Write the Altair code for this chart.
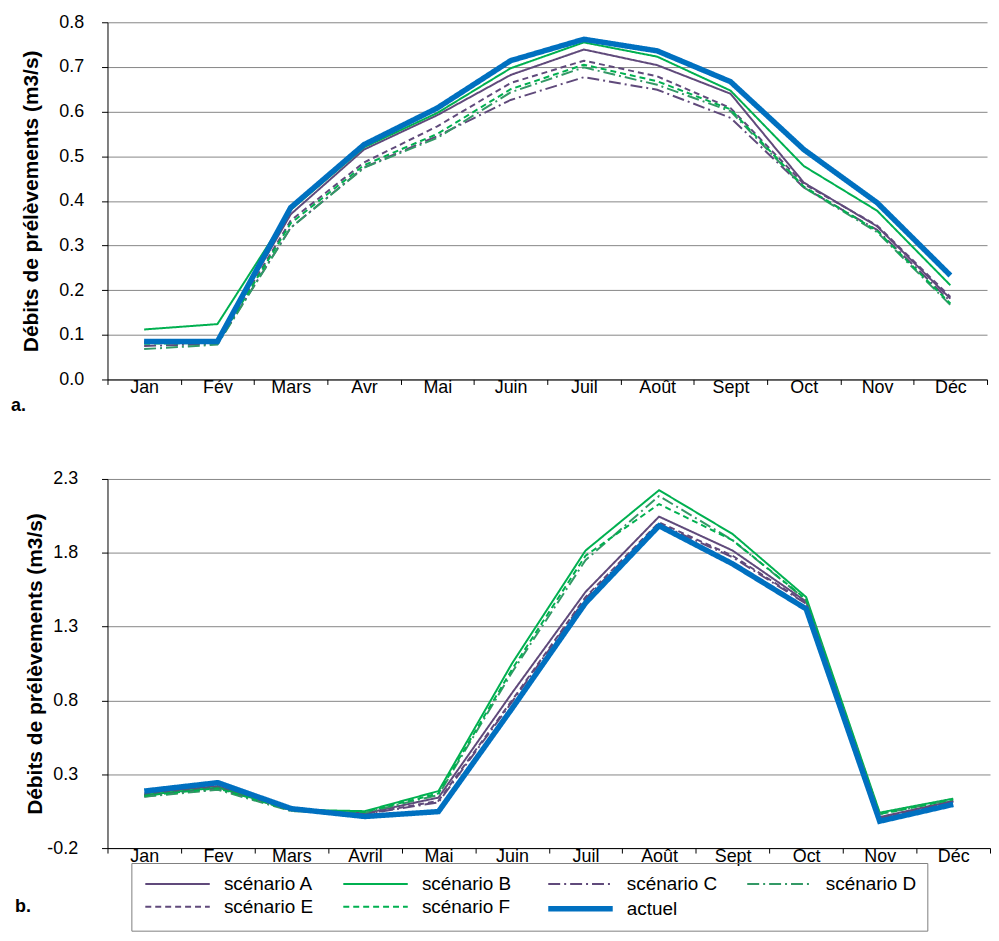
import altair as alt
import pandas as pd

months_a = ["Jan", "Fév", "Mars", "Avr", "Mai", "Juin", "Juil", "Août", "Sept", "Oct", "Nov", "Déc"]
months_b = ["Jan", "Fev", "Mars", "Avril", "Mai", "Juin", "Juil", "Août", "Sept", "Oct", "Nov", "Déc"]
series = ["scénario A", "scénario B", "scénario C", "scénario D", "scénario E", "scénario F", "actuel"]

# panel a values
a_A = [0.085, 0.087, 0.370, 0.515, 0.592, 0.682, 0.739, 0.704, 0.640, 0.441, 0.343, 0.181]
a_B = [0.112, 0.124, 0.380, 0.520, 0.597, 0.697, 0.755, 0.723, 0.647, 0.478, 0.378, 0.211]
a_C = [0.075, 0.080, 0.340, 0.475, 0.545, 0.626, 0.677, 0.649, 0.586, 0.430, 0.335, 0.175]
a_D = [0.068, 0.078, 0.340, 0.474, 0.541, 0.643, 0.699, 0.660, 0.601, 0.430, 0.330, 0.167]
a_E = [0.083, 0.085, 0.356, 0.486, 0.567, 0.664, 0.714, 0.679, 0.608, 0.438, 0.345, 0.185]
a_F = [0.080, 0.082, 0.350, 0.480, 0.550, 0.650, 0.705, 0.668, 0.605, 0.432, 0.333, 0.170]
a_act = [0.085, 0.085, 0.385, 0.526, 0.608, 0.714, 0.762, 0.736, 0.667, 0.515, 0.396, 0.233]

# panel b values
b_A = [0.170, 0.220, 0.060, 0.035, 0.142, 0.850, 1.535, 2.045, 1.815, 1.470, 0.010, 0.120]
b_B = [0.160, 0.210, 0.060, 0.050, 0.186, 1.050, 1.815, 2.224, 1.927, 1.500, 0.040, 0.135]
b_C = [0.150, 0.200, 0.055, 0.030, 0.110, 0.790, 1.490, 1.995, 1.770, 1.455, 0.000, 0.115]
b_D = [0.148, 0.195, 0.050, 0.040, 0.160, 0.990, 1.750, 2.185, 1.885, 1.480, 0.030, 0.130]
b_E = [0.160, 0.210, 0.055, 0.030, 0.120, 0.800, 1.500, 2.006, 1.780, 1.460, 0.000, 0.115]
b_F = [0.155, 0.205, 0.055, 0.045, 0.170, 1.010, 1.780, 2.130, 1.885, 1.485, 0.030, 0.130]
b_act = [0.186, 0.243, 0.067, 0.014, 0.047, 0.745, 1.460, 1.983, 1.725, 1.420, -0.018, 0.096]

ticks_a = [0.0, 0.1, 0.2, 0.3, 0.4, 0.5, 0.6, 0.7, 0.8]
ticks_b = [-0.2, 0.3, 0.8, 1.3, 1.8, 2.3]

colors = ["#604a7b", "#00b050", "#604a7b", "#339966", "#604a7b", "#00b050", "#0070c0"]
dashes = [[1, 0], [1, 0], [12, 4, 2, 4], [12, 4, 2, 4], [6, 4], [6, 4], [1, 0]]
widths = [2, 2, 2, 2, 2, 2, 5.5]

FONT = "Liberation Sans"


def long_df(months, cols):
    rows = []
    for s, vals in zip(series, cols):
        for i, (m, v) in enumerate(zip(months, vals)):
            rows.append({"month": m, "idx": i, "series": s, "value": v})
    return pd.DataFrame(rows)


df_a = long_df(months_a, [a_A, a_B, a_C, a_D, a_E, a_F, a_act])
df_b = long_df(months_b, [b_A, b_B, b_C, b_D, b_E, b_F, b_act])

legend = alt.Legend(
    orient="none", legendX=24, legendY=845, columns=4, direction="horizontal", title=None,
    symbolType="M-1,0H6.2", symbolSize=324, labelFontSize=19, labelFont=FONT,
    labelColor="#000000", strokeColor="#7f7f7f", padding=11, columnPadding=26,
    rowPadding=3, labelOffset=58, labelLimit=300,
)


def panel(df, months, domain, tvals, width, height, label_pad, title_pad, tag, tag_offset):
    base = alt.Chart(df).mark_line(strokeCap="butt", strokeJoin="miter").encode(
        x=alt.X("month:N", sort=months, bandPosition=0.5,
                scale=alt.Scale(type="band", paddingInner=0, paddingOuter=0),
                axis=alt.Axis(title=None, labelAngle=0, tickBand="extent", grid=False,
                              labelFontSize=18, labelFont=FONT, labelColor="#000000",
                              labelBaseline="middle", labelPadding=3, tickSize=5,
                              domainColor="#000000", tickColor="#000000", labelLimit=200)),
        y=alt.Y("value:Q", scale=alt.Scale(domain=domain, nice=False, zero=False),
                axis=alt.Axis(title="Débits de prélèvements (m3/s)", values=tvals,
                              labelExpr="replace(format(datum.value, '.1f'), '\u2212', '-')",
                              titleFontSize=21, titleFontWeight="bold", titleFont=FONT,
                              titleColor="#000000", titlePadding=title_pad,
                              labelFontSize=18, labelFont=FONT, labelColor="#000000",
                              labelPadding=label_pad, tickSize=6, grid=True,
                              gridColor="#868686", domainColor="#000000", tickColor="#000000")),
        color=alt.Color("series:N", scale=alt.Scale(domain=series, range=colors), legend=legend),
        strokeDash=alt.StrokeDash("series:N", scale=alt.Scale(domain=series, range=dashes), legend=legend),
        strokeWidth=alt.StrokeWidth("series:N", scale=alt.Scale(type="ordinal", domain=series, range=widths),
                                    legend=legend),
        order=alt.Order("idx:Q"),
    )
    scen = base.transform_filter(alt.datum.series != "actuel")
    act = base.transform_filter(alt.datum.series == "actuel")
    return alt.layer(scen, act).properties(
        width=width, height=height,
        title=alt.TitleParams(tag, orient="bottom", anchor="start", frame="bounds", dx=-10,
                              offset=tag_offset, fontSize=18, fontWeight="bold", font=FONT,
                              color="#000000"),
    )


top = panel(df_a, months_a, [0, 0.8], ticks_a, 884, 359, 18, 17, "a.", 1)
bottom = panel(df_b, months_b, [-0.2, 2.3], ticks_b, 887, 371, 24, 1, "b.", 33)

chart = alt.vconcat(top, bottom, spacing=55).properties(
    padding={"left": 2, "top": 3, "right": 0, "bottom": 0}
).configure(font=FONT).configure_view(stroke=None)

chart.save("out.html", embed_options={"renderer": "svg", "actions": False})
